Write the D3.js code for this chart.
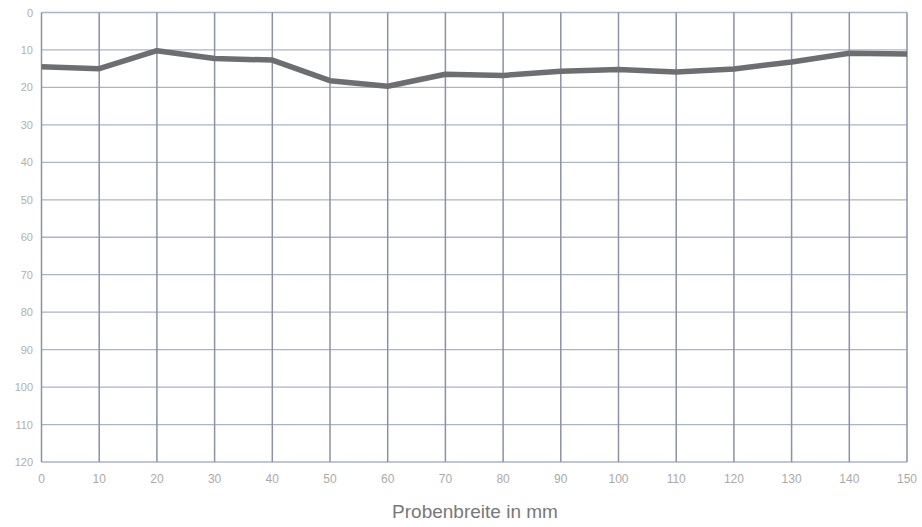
<!DOCTYPE html>
<html><head><meta charset="utf-8">
<script src="https://cdn.jsdelivr.net/npm/d3@7"></script>
<style>body{margin:0;background:#fff;}svg{display:block;}</style>
</head><body>
<svg id="chart" width="922" height="527"></svg>
<script>
const widths = [0,10,20,30,40,50,60,70,80,90,100,110,120,130,140,150];
const values = [14.5,15.0,10.2,12.3,12.7,18.2,19.7,16.5,16.8,15.7,15.2,15.9,15.1,13.2,10.9,11.1];
const xTicks = [0,10,20,30,40,50,60,70,80,90,100,110,120,130,140,150];
const yTicks = [0,10,20,30,40,50,60,70,80,90,100,110,120];
const xTitle = "Probenbreite in mm";

const svg = d3.select("#chart");
const m = {left:41.5, top:12.5, right:907, bottom:462};
const x = d3.scaleLinear().domain([0,150]).range([m.left, m.right]);
const y = d3.scaleLinear().domain([0,120]).range([m.top, m.bottom]);

// horizontal grid
svg.append("g").selectAll("line").data(yTicks).join("line")
  .attr("x1", m.left).attr("x2", m.right)
  .attr("y1", d=>y(d)).attr("y2", d=>y(d))
  .attr("stroke", "#aab4c8").attr("stroke-width", 1.3);
// vertical grid
svg.append("g").selectAll("line").data(xTicks).join("line")
  .attr("y1", m.top).attr("y2", m.bottom)
  .attr("x1", d=>x(d)).attr("x2", d=>x(d))
  .attr("stroke", "#8a92a4").attr("stroke-width", 1.5);

// y labels
svg.append("g").selectAll("text").data(yTicks).join("text")
  .attr("x", 33).attr("y", d=>y(d)+4)
  .attr("text-anchor","end")
  .attr("font-family","Liberation Sans, Arial, sans-serif")
  .attr("font-size", 11).attr("fill","#b0b0b0")
  .text(d=>d);
// x labels
svg.append("g").selectAll("text").data(xTicks).join("text")
  .attr("x", d=>x(d)).attr("y", 483)
  .attr("text-anchor","middle")
  .attr("font-family","Liberation Sans, Arial, sans-serif")
  .attr("font-size", 12).attr("fill","#aaaaaa")
  .text(d=>d);

// line
const line = d3.line().x((d,i)=>x(widths[i])).y(d=>y(d));
svg.append("path").datum(values)
  .attr("d", line).attr("fill","none")
  .attr("stroke","#6c6e72").attr("stroke-width",5.5)
  .attr("stroke-linejoin","round");

svg.append("text").attr("x", 475).attr("y", 518)
  .attr("text-anchor","middle")
  .attr("font-family","Liberation Sans, Arial, sans-serif")
  .attr("font-size", 19).attr("fill","#787878")
  .text(xTitle);
</script>
</body></html>
